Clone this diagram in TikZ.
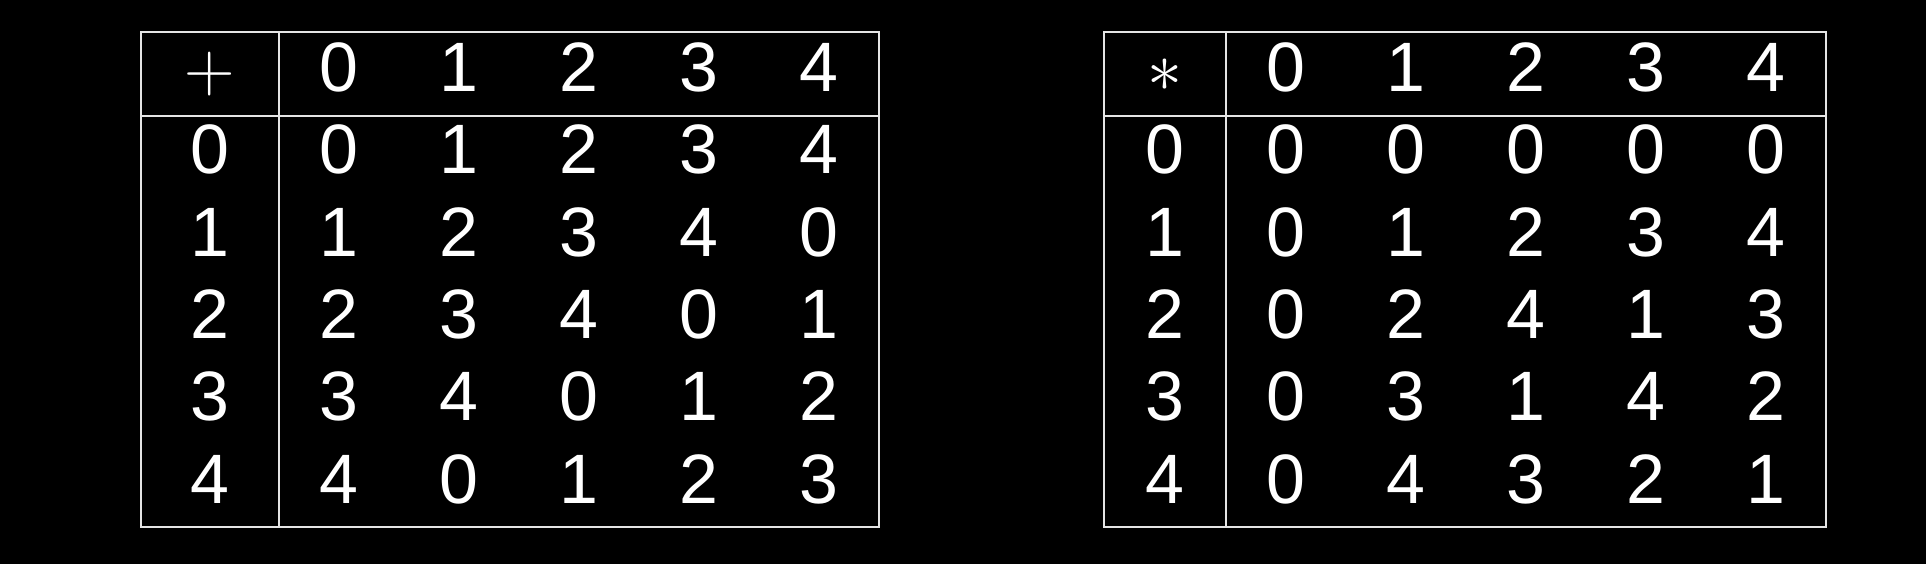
\documentclass[tikz,border=0pt]{standalone}
\usepackage{fix-cm}
\usepackage{fontspec}
\setmainfont{Liberation Sans}
\definecolor{gridline}{gray}{0.90}
\tikzset{
	cell/.style={text=white, anchor=base, inner sep=0pt, font=\fontsize{39.8pt}{48pt}\selectfont},
	rule/.style={draw=gridline, line width=1.3pt}
}
\begin{document}
\begin{tikzpicture}
	\fill[black] (0.00,0.00) rectangle (38.52,11.28);
	\useasboundingbox (0.00,0.00) rectangle (38.52,11.28);
	% addition table
	\draw[rule] (2.82,0.74) rectangle (17.58,10.64);
	\draw[rule] (2.82,8.96) -- (17.58,8.96);
	\draw[rule] (5.58,0.74) -- (5.58,10.64);
	\node[cell] (padd) at (4.20,9.44) {$+$};
	\node[cell] (ph0) at (6.78,9.44) {0};
	\node[cell] (ph1) at (9.18,9.44) {1};
	\node[cell] (ph2) at (11.58,9.44) {2};
	\node[cell] (ph3) at (13.98,9.44) {3};
	\node[cell] (ph4) at (16.38,9.44) {4};
	\node[cell] (pr0) at (4.20,7.80) {0};
	\node[cell] (p00) at (6.78,7.80) {0};
	\node[cell] (p01) at (9.18,7.80) {1};
	\node[cell] (p02) at (11.58,7.80) {2};
	\node[cell] (p03) at (13.98,7.80) {3};
	\node[cell] (p04) at (16.38,7.80) {4};
	\node[cell] (pr1) at (4.20,6.15) {1};
	\node[cell] (p10) at (6.78,6.15) {1};
	\node[cell] (p11) at (9.18,6.15) {2};
	\node[cell] (p12) at (11.58,6.15) {3};
	\node[cell] (p13) at (13.98,6.15) {4};
	\node[cell] (p14) at (16.38,6.15) {0};
	\node[cell] (pr2) at (4.20,4.51) {2};
	\node[cell] (p20) at (6.78,4.51) {2};
	\node[cell] (p21) at (9.18,4.51) {3};
	\node[cell] (p22) at (11.58,4.51) {4};
	\node[cell] (p23) at (13.98,4.51) {0};
	\node[cell] (p24) at (16.38,4.51) {1};
	\node[cell] (pr3) at (4.20,2.86) {3};
	\node[cell] (p30) at (6.78,2.86) {3};
	\node[cell] (p31) at (9.18,2.86) {4};
	\node[cell] (p32) at (11.58,2.86) {0};
	\node[cell] (p33) at (13.98,2.86) {1};
	\node[cell] (p34) at (16.38,2.86) {2};
	\node[cell] (pr4) at (4.20,1.22) {4};
	\node[cell] (p40) at (6.78,1.22) {4};
	\node[cell] (p41) at (9.18,1.22) {0};
	\node[cell] (p42) at (11.58,1.22) {1};
	\node[cell] (p43) at (13.98,1.22) {2};
	\node[cell] (p44) at (16.38,1.22) {3};
	% multiplication table
	\draw[rule] (22.08,0.74) rectangle (36.52,10.64);
	\draw[rule] (22.08,8.96) -- (36.52,8.96);
	\draw[rule] (24.52,0.74) -- (24.52,10.64);
	\node[cell] (mmul) at (23.30,9.44) {$\ast$};
	\node[cell] (mh0) at (25.72,9.44) {0};
	\node[cell] (mh1) at (28.12,9.44) {1};
	\node[cell] (mh2) at (30.52,9.44) {2};
	\node[cell] (mh3) at (32.92,9.44) {3};
	\node[cell] (mh4) at (35.32,9.44) {4};
	\node[cell] (mr0) at (23.30,7.80) {0};
	\node[cell] (m00) at (25.72,7.80) {0};
	\node[cell] (m01) at (28.12,7.80) {0};
	\node[cell] (m02) at (30.52,7.80) {0};
	\node[cell] (m03) at (32.92,7.80) {0};
	\node[cell] (m04) at (35.32,7.80) {0};
	\node[cell] (mr1) at (23.30,6.15) {1};
	\node[cell] (m10) at (25.72,6.15) {0};
	\node[cell] (m11) at (28.12,6.15) {1};
	\node[cell] (m12) at (30.52,6.15) {2};
	\node[cell] (m13) at (32.92,6.15) {3};
	\node[cell] (m14) at (35.32,6.15) {4};
	\node[cell] (mr2) at (23.30,4.51) {2};
	\node[cell] (m20) at (25.72,4.51) {0};
	\node[cell] (m21) at (28.12,4.51) {2};
	\node[cell] (m22) at (30.52,4.51) {4};
	\node[cell] (m23) at (32.92,4.51) {1};
	\node[cell] (m24) at (35.32,4.51) {3};
	\node[cell] (mr3) at (23.30,2.86) {3};
	\node[cell] (m30) at (25.72,2.86) {0};
	\node[cell] (m31) at (28.12,2.86) {3};
	\node[cell] (m32) at (30.52,2.86) {1};
	\node[cell] (m33) at (32.92,2.86) {4};
	\node[cell] (m34) at (35.32,2.86) {2};
	\node[cell] (mr4) at (23.30,1.22) {4};
	\node[cell] (m40) at (25.72,1.22) {0};
	\node[cell] (m41) at (28.12,1.22) {4};
	\node[cell] (m42) at (30.52,1.22) {3};
	\node[cell] (m43) at (32.92,1.22) {2};
	\node[cell] (m44) at (35.32,1.22) {1};
\end{tikzpicture}
\end{document}
